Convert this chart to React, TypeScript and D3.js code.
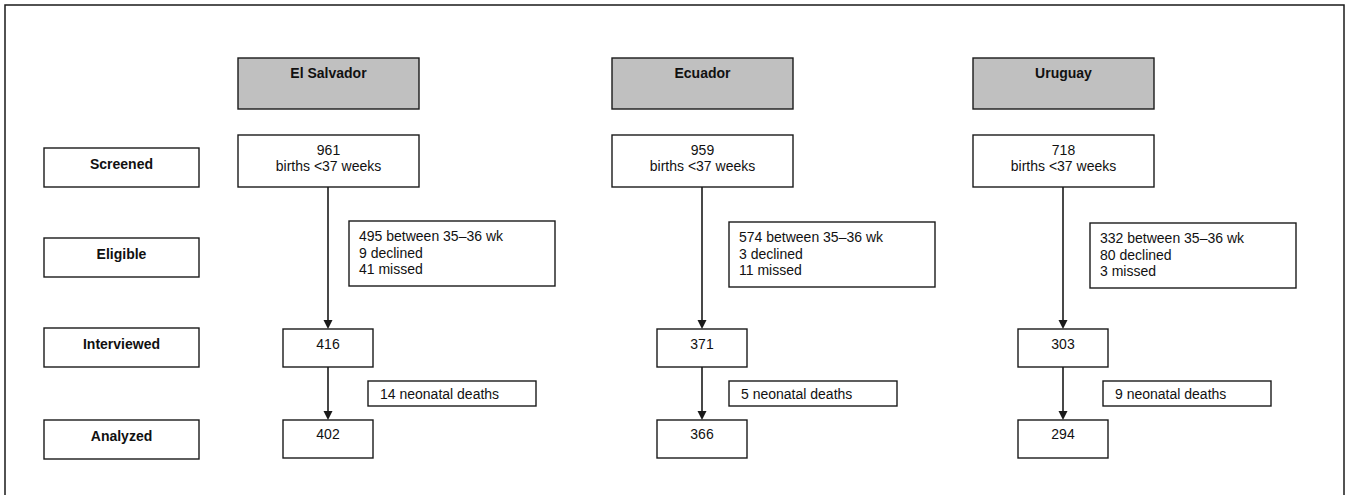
import React from "react";
import * as d3 from "d3";

const countries = ["El Salvador", "Ecuador", "Uruguay"];
const stages = ["Screened", "Eligible", "Interviewed", "Analyzed"];
const screened = [961, 959, 718];
const between3536 = [495, 574, 332];
const declined = [9, 3, 80];
const missed = [41, 11, 3];
const interviewed = [416, 371, 303];
const neonatalDeaths = [14, 5, 9];
const analyzed = [402, 366, 294];

const W = 1351;
const H = 495;
const FONT = "'Liberation Sans', Arial, Helvetica, sans-serif";
const STROKE = "#1a1a1a";

export default function App() {
  const xCenter = d3.scaleOrdinal<string, number>().domain(countries).range([328, 702, 1063]);
  const exclOffset = d3.scaleOrdinal<string, number>().domain(countries).range([21, 27, 27]);
  const exclTop = d3.scaleOrdinal<string, number>().domain(countries).range([221, 222, 223]);
  const deathOffset = d3.scaleOrdinal<string, number>().domain(countries).range([40, 27, 40]);
  const stageTop = d3.scaleOrdinal<string, number>().domain(stages).range([148, 238, 328, 420]);

  const boxStyle = { fill: "#fff", stroke: STROKE, strokeWidth: 1.4 };
  const textStyle: React.CSSProperties = { fontFamily: FONT, fontSize: 14, fill: "#111" };

  const arrow = (x: number, y1: number, y2: number, key: string) => (
    <g key={key}>
      <line x1={x} y1={y1} x2={x} y2={y2 - 8} stroke={STROKE} strokeWidth={1.6} />
      <path d={`M${x - 4.5},${y2 - 9} L${x + 4.5},${y2 - 9} L${x},${y2} Z`} fill={STROKE} />
    </g>
  );

  return (
    <svg
      width={W}
      height={H}
      style={{ position: "absolute", left: 0, top: 0, background: "#fff" }}
    >
      <rect x={5} y={5} width={1339} height={510} fill="none" stroke={STROKE} strokeWidth={1.5} />

      {stages.map((s) => {
        const top = stageTop(s);
        return (
          <g key={s}>
            <rect x={44} y={top} width={155} height={39} {...boxStyle} />
            <text x={121.5} y={top + 21} textAnchor="middle" style={{ ...textStyle, fontWeight: 700 }}>
              {s}
            </text>
          </g>
        );
      })}

      {countries.map((c, i) => {
        const cx = xCenter(c);
        const ex = cx + exclOffset(c);
        const ey = exclTop(c);
        const dx = cx + deathOffset(c);
        return (
          <g key={c}>
            {/* header */}
            <rect x={cx - 90} y={58} width={181} height={51} fill="#c0c0c0" stroke={STROKE} strokeWidth={1.4} />
            <text x={cx + 0.5} y={78} textAnchor="middle" style={{ ...textStyle, fontWeight: 700 }}>
              {c}
            </text>

            {/* screened */}
            <rect x={cx - 90} y={135} width={181} height={52} {...boxStyle} />
            <text x={cx + 0.5} y={155} textAnchor="middle" style={textStyle}>
              {screened[i]}
            </text>
            <text x={cx + 0.5} y={171} textAnchor="middle" style={textStyle}>
              births &lt;37 weeks
            </text>

            {/* arrows */}
            {arrow(cx, 187, 329, c + "a1")}
            {arrow(cx, 367, 420, c + "a2")}

            {/* exclusion box */}
            <rect x={ex} y={ey} width={206} height={65} {...boxStyle} />
            <text x={ex + 10} y={ey + 20} style={textStyle}>
              {`${between3536[i]} between 35–36 wk`}
            </text>
            <text x={ex + 10} y={ey + 36.5} style={textStyle}>
              {`${declined[i]} declined`}
            </text>
            <text x={ex + 10} y={ey + 53} style={textStyle}>
              {`${missed[i]} missed`}
            </text>

            {/* interviewed */}
            <rect x={cx - 45} y={329} width={90} height={38} {...boxStyle} />
            <text x={cx} y={349} textAnchor="middle" style={textStyle}>
              {interviewed[i]}
            </text>

            {/* deaths */}
            <rect x={dx} y={381} width={168} height={25} {...boxStyle} />
            <text x={dx + 12} y={399} style={textStyle}>
              {`${neonatalDeaths[i]} neonatal deaths`}
            </text>

            {/* analyzed */}
            <rect x={cx - 45} y={420} width={90} height={38} {...boxStyle} />
            <text x={cx} y={439} textAnchor="middle" style={textStyle}>
              {analyzed[i]}
            </text>
          </g>
        );
      })}
    </svg>
  );
}
